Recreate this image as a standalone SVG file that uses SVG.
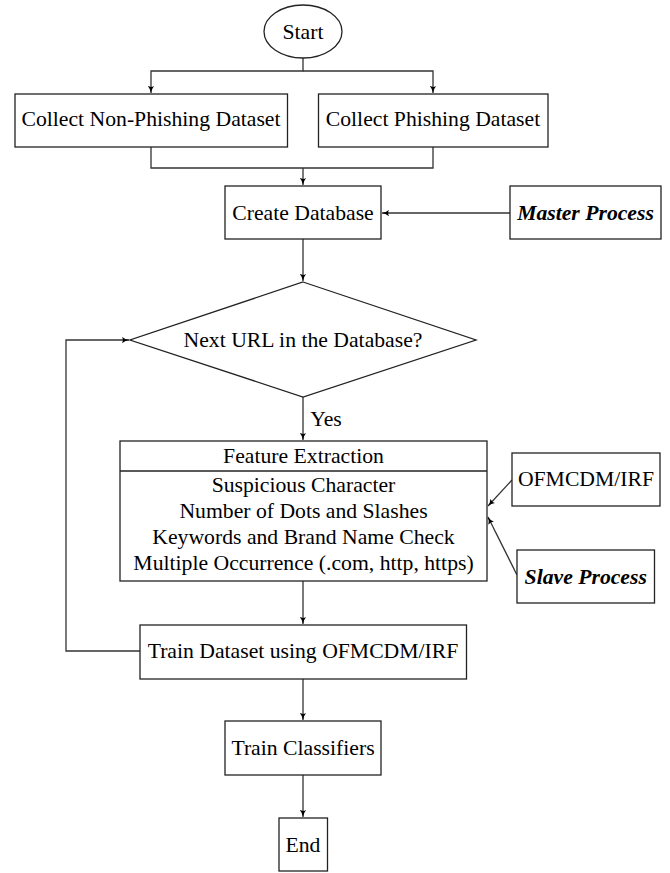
<svg xmlns="http://www.w3.org/2000/svg" width="670" height="873" viewBox="0 0 670 873">
<style>
  .box { fill: #fff; stroke: #222; stroke-width: 1.3; }
  .conn { fill: none; stroke: #333; stroke-width: 1.3; }
  .t { font-family: "Liberation Serif", "Times New Roman", serif; font-size: 21.7px; fill: #000; text-anchor: middle; }
  .bi { font-weight: bold; font-style: italic; }
</style>
<defs>
  <marker id="arr" viewBox="0 0 10 10" refX="10" refY="5" markerWidth="7" markerHeight="7" markerUnits="userSpaceOnUse" orient="auto">
    <path d="M0,0.5 Q4,4 10,5 Q4,6 0,9.5 Q2.5,5 0,0.5 z" fill="#000"/>
  </marker>
</defs>
<rect width="670" height="873" fill="#fff"/>

<g id="connectors">
  <path class="conn" d="M303,58 V71 H151 V93" marker-end="url(#arr)"/>
  <path class="conn" d="M303,71 H433 V93" marker-end="url(#arr)"/>
  <path class="conn" d="M151,147 V168 H433 V147"/>
  <path class="conn" d="M303,168 V185" marker-end="url(#arr)"/>
  <path class="conn" d="M510,213 H382" marker-end="url(#arr)"/>
  <path class="conn" d="M303,239 V281" marker-end="url(#arr)"/>
  <path class="conn" d="M303,397 V440" marker-end="url(#arr)"/>
  <text class="t" x="326" y="426">Yes</text>
  <path class="conn" d="M512,480 L488,506" marker-end="url(#arr)"/>
  <path class="conn" d="M517,575 L488,517" marker-end="url(#arr)"/>
  <path class="conn" d="M303,581 V624" marker-end="url(#arr)"/>
  <path class="conn" d="M140,651 H66 V340 H129" marker-end="url(#arr)"/>
  <path class="conn" d="M303,679 V720" marker-end="url(#arr)"/>
  <path class="conn" d="M303,775 V817" marker-end="url(#arr)"/>
</g>

<g id="start">
  <ellipse class="box" cx="303" cy="31.5" rx="39" ry="26.5"/>
  <text class="t" x="303" y="39">Start</text>
</g>
<g id="collect-non-phishing">
  <rect class="box" x="15" y="94" width="272.5" height="53"/>
  <text class="t" x="151" y="126">Collect Non-Phishing Dataset</text>
</g>
<g id="collect-phishing">
  <rect class="box" x="318.5" y="94" width="229.5" height="53"/>
  <text class="t" x="433" y="126">Collect Phishing Dataset</text>
</g>
<g id="create-database">
  <rect class="box" x="225" y="186" width="156" height="53"/>
  <text class="t" x="303" y="219.5">Create Database</text>
</g>
<g id="master-process">
  <rect class="box" x="510" y="186" width="151" height="53"/>
  <text class="t bi" x="585.5" y="219.5">Master Process</text>
</g>
<g id="decision">
  <polygon class="box" points="303,282 476,340 303,397 130,340"/>
  <text class="t" x="303" y="347">Next URL in the Database?</text>
</g>
<g id="feature-extraction">
  <rect class="box" x="120" y="441" width="367" height="140"/>
  <line class="box" x1="120" y1="471" x2="487" y2="471"/>
  <text class="t" x="303.5" y="463">Feature Extraction</text>
  <text class="t" x="303.5" y="492">Suspicious Character</text>
  <text class="t" x="303.5" y="518">Number of Dots and Slashes</text>
  <text class="t" x="303.5" y="544">Keywords and Brand Name Check</text>
  <text class="t" x="303.5" y="570">Multiple Occurrence (.com, http, https)</text>
</g>
<g id="ofmcdm-irf">
  <rect class="box" x="512" y="453" width="148" height="53"/>
  <text class="t" x="586" y="486">OFMCDM/IRF</text>
</g>
<g id="slave-process">
  <rect class="box" x="517" y="550" width="137.5" height="53"/>
  <text class="t bi" x="585.75" y="583.5">Slave Process</text>
</g>
<g id="train-dataset">
  <rect class="box" x="140" y="625" width="326.5" height="54"/>
  <text class="t" x="303" y="658">Train Dataset using OFMCDM/IRF</text>
</g>
<g id="train-classifiers">
  <rect class="box" x="225" y="721" width="156" height="54"/>
  <text class="t" x="303" y="755">Train Classifiers</text>
</g>
<g id="end">
  <rect class="box" x="279" y="818" width="48.5" height="53"/>
  <text class="t" x="303" y="851.5">End</text>
</g>
</svg>
